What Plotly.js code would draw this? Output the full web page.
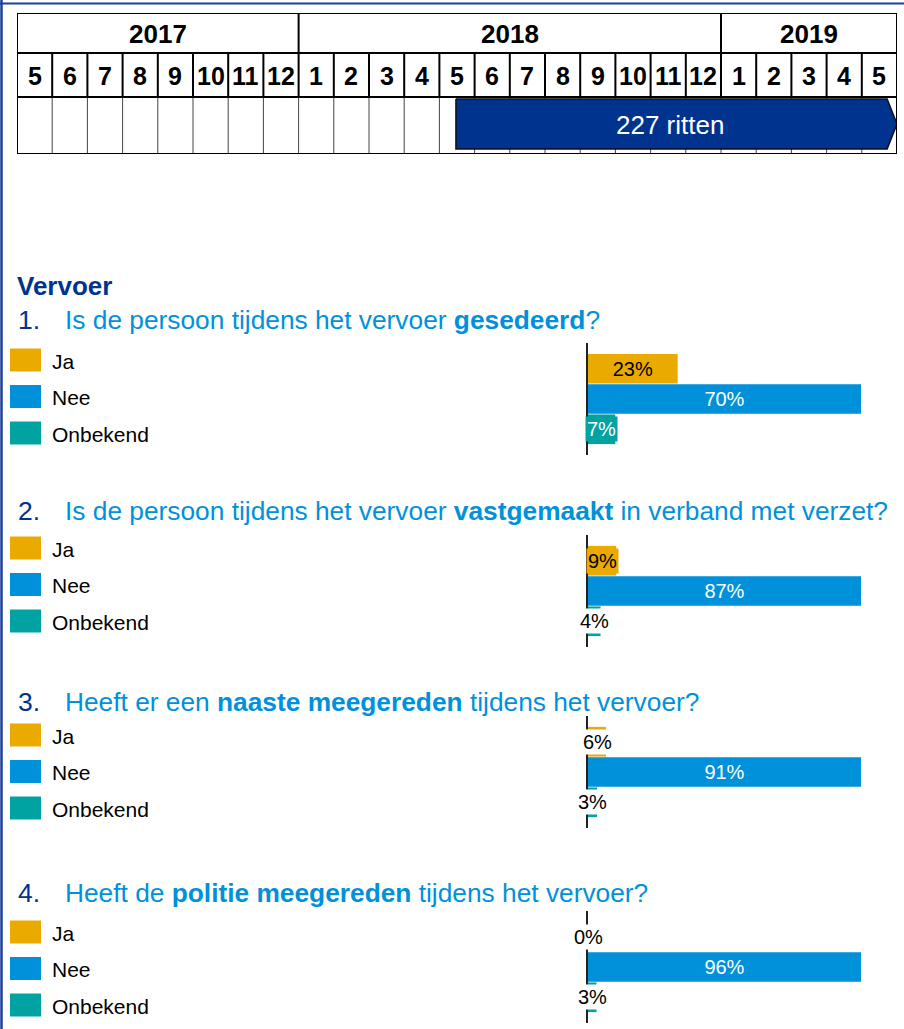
<!DOCTYPE html>
<html>
<head>
<meta charset="utf-8">
<script src="https://cdn.plot.ly/plotly-3.0.1.min.js"></script>
<style>
  body { margin: 0; background: #fff; }
  #chart { width: 904px; height: 1029px; }
</style>
</head>
<body>
<div id="chart"></div>
<script>
// ---- timeline data ----
var years = [2017, 2018, 2019];
var monthsPerYear = [8, 12, 5];
var monthLabels = ['5', '6', '7', '8', '9', '10', '11', '12',
                   '1', '2', '3', '4', '5', '6', '7', '8', '9', '10', '11', '12',
                   '1', '2', '3', '4', '5'];
var rittenLabel = '227 ritten';
var rittenStart = 12.47;   // month column index where the rides start
var rittenEnd = 25;        // runs to the end of the table

// ---- bar chart data ----
var categories = ['Ja', 'Nee', 'Onbekend'];
var questionNrs = ['1.', '2.', '3.', '4.'];
var questions = [
  'Is de persoon tijdens het vervoer <b>gesedeerd</b>?',
  'Is de persoon tijdens het vervoer <b>vastgemaakt</b> in verband met verzet?',
  'Heeft er een <b>naaste meegereden</b> tijdens het vervoer?',
  'Heeft de <b>politie meegereden</b> tijdens het vervoer?'
];
var gesedeerd = [23, 70, 7];
var vastgemaakt = [9, 87, 4];
var naaste = [6, 91, 3];
var politie = [0, 96, 3];
var series = [gesedeerd, vastgemaakt, naaste, politie];

// ---- styling ----
var W = 904, H = 1029;
var FONT = 'Arial, "Liberation Sans", sans-serif';
var navy = '#00338D', lightBlue = '#0091DA';
var barColors = ['#EAAA00', '#0091DA', '#00A3A1'];
var insideTextColors = ['#000000', '#ffffff', '#ffffff'];
// small labels that sit on a box in the bar colour (others get a white box)
var labelOnBarColour = {'0-2': true, '1-0': true};

var chartTop = [343, 535, 716, 911];
var chartHeight = 112;
var legendTop = [360, 548, 735, 932];
var questionY = [320, 511, 702, 893];

function px(p) { return p / W; }
function py(p) { return 1 - p / H; }

var data = [];
var layout = {
  width: W, height: H,
  margin: {l: 0, r: 0, t: 0, b: 0},
  paper_bgcolor: '#ffffff',
  plot_bgcolor: 'rgba(0,0,0,0)',
  showlegend: false,
  bargap: 0.02,
  font: {family: FONT, color: '#000'},
  shapes: [],
  annotations: []
};

// ---- four horizontal bar charts ----
series.forEach(function (vals, i) {
  var n = i + 1;
  var xa = n === 1 ? 'x' : 'x' + n;
  var ya = n === 1 ? 'y' : 'y' + n;
  var maxV = Math.max.apply(null, vals);

  data.push({
    type: 'bar',
    orientation: 'h',
    x: vals,
    y: categories,
    xaxis: xa, yaxis: ya,
    marker: {color: barColors},
    text: vals.map(function (v) { return v / maxV > 0.15 ? v + '%' : ''; }),
    textposition: 'inside',
    insidetextanchor: 'middle',
    textfont: {size: 20, color: insideTextColors, family: FONT},
    hoverinfo: 'none'
  });

  layout['xaxis' + (n === 1 ? '' : n)] = {
    domain: [px(588), px(861)],
    range: [0, maxV],
    anchor: ya,
    showgrid: false, zeroline: false, showticklabels: false, showline: false, ticks: ''
  };
  layout['yaxis' + (n === 1 ? '' : n)] = {
    domain: [py(chartTop[i] + chartHeight), py(chartTop[i])],
    type: 'category',
    categoryarray: categories,
    range: [2.85, -0.85],
    anchor: xa,
    showgrid: false, zeroline: false, showticklabels: false, ticks: '',
    showline: true, linecolor: '#222', linewidth: 2
  };

  // labels of bars too small to hold their text
  vals.forEach(function (v, j) {
    if (v / maxV > 0.15) return;
    var onBar = labelOnBarColour[i + '-' + j];
    layout.annotations.push({
      xref: xa, yref: ya, x: v / 2, y: categories[j],
      text: v + '%', showarrow: false,
      xanchor: 'center', yanchor: 'middle',
      font: {size: 20, color: onBar ? insideTextColors[j] : '#000'},
      bgcolor: onBar ? barColors[j] : '#ffffff',
      borderpad: 1
    });
  });

  // legend blocks
  categories.forEach(function (c, j) {
    var cy = legendTop[i] + j * 36.5;
    layout.shapes.push({
      type: 'rect', xref: 'paper', yref: 'paper',
      x0: px(10), x1: px(41), y0: py(cy + 11.5), y1: py(cy - 11.5),
      fillcolor: barColors[j], line: {width: 0}
    });
    layout.annotations.push({
      xref: 'paper', yref: 'paper', x: px(50), y: py(cy + 1),
      text: c, showarrow: false, xanchor: 'left', yanchor: 'middle',
      font: {size: 21, color: '#000'}
    });
  });

  // question heading
  layout.annotations.push({
    xref: 'paper', yref: 'paper', x: px(16), y: py(questionY[i]),
    text: questionNrs[i], showarrow: false, xanchor: 'left', yanchor: 'middle',
    font: {size: 26.5, color: navy}
  });
  layout.annotations.push({
    xref: 'paper', yref: 'paper', x: px(63), y: py(questionY[i]),
    text: questions[i], showarrow: false, xanchor: 'left', yanchor: 'middle',
    font: {size: 26.3, color: lightBlue}
  });
});

layout.annotations.push({
  xref: 'paper', yref: 'paper', x: px(15), y: py(286),
  text: '<b>Vervoer</b>', showarrow: false, xanchor: 'left', yanchor: 'middle',
  font: {size: 26, color: navy}
});

// ---- timeline table on its own axes (x = month column, y = pixel row) ----
var nCols = monthLabels.length;
layout.xaxis5 = {domain: [px(17), px(897)], range: [0, nCols], anchor: 'y5', visible: false};
layout.yaxis5 = {domain: [py(154), py(13)], range: [154, 13], anchor: 'x5', visible: false};
var rowYear = [13, 53], rowMonth = [53, 97], rowBody = [97, 154];

function tl(x0, y0, x1, y1, w, c, layer) {
  layout.shapes.push({type: 'line', xref: 'x5', yref: 'y5', x0: x0, y0: y0, x1: x1, y1: y1,
    line: {color: c || '#000', width: w}, layer: layer || 'above'});
}
// thin body column lines (behind the arrow)
for (var k = 1; k < nCols; k++) tl(k, rowBody[0], k, rowBody[1], 1, '#444', 'below');
// month separators
for (k = 1; k < nCols; k++) tl(k, rowMonth[0], k, rowMonth[1], 2);
// year separators
var acc = 0;
years.forEach(function (yr, i) {
  layout.annotations.push({
    xref: 'x5', yref: 'y5', x: acc + monthsPerYear[i] / 2, y: 34,
    text: '<b>' + yr + '</b>', showarrow: false, font: {size: 26, color: '#000'}
  });
  acc += monthsPerYear[i];
  if (acc < nCols) tl(acc, rowYear[0], acc, rowYear[1], 2);
});
tl(0, 53, nCols, 53, 2);
tl(0, 97, nCols, 97, 2);
layout.shapes.push({type: 'rect', xref: 'x5', yref: 'y5', x0: 0, x1: nCols, y0: 13, y1: 154,
  line: {color: '#000', width: 2}, fillcolor: 'rgba(0,0,0,0)'});

monthLabels.forEach(function (m, k) {
  layout.annotations.push({
    xref: 'x5', yref: 'y5', x: k + 0.5, y: 76,
    text: '<b>' + m + '</b>', showarrow: false, font: {size: 25, color: '#000'}
  });
});

// the "227 ritten" arrow
var tip = 0.28;
data.push({
  type: 'scatter', mode: 'lines', xaxis: 'x5', yaxis: 'y5',
  x: [rittenStart, rittenEnd - tip, rittenEnd, rittenEnd - tip, rittenStart, rittenStart],
  y: [99, 99, 124, 149, 149, 99],
  fill: 'toself', fillcolor: navy,
  line: {color: '#111', width: 1.5},
  hoverinfo: 'none'
});
layout.annotations.push({
  xref: 'x5', yref: 'y5', x: (rittenStart + rittenEnd - tip) / 2 - 0.05, y: 125,
  text: rittenLabel, showarrow: false, font: {size: 26, color: '#ffffff'}
});

// frame lines of the slide
layout.shapes.push({type: 'line', xref: 'paper', yref: 'paper', x0: px(1.5), x1: px(1.5), y0: 0, y1: 1,
  line: {color: '#1B3F9A', width: 2.5}});
layout.shapes.push({type: 'line', xref: 'paper', yref: 'paper', x0: 0, x1: 1, y0: py(3.5), y1: py(3.5),
  line: {color: '#1B3F9A', width: 2}});

Plotly.newPlot('chart', data, layout, {displayModeBar: false, staticPlot: true});
</script>
</body>
</html>
